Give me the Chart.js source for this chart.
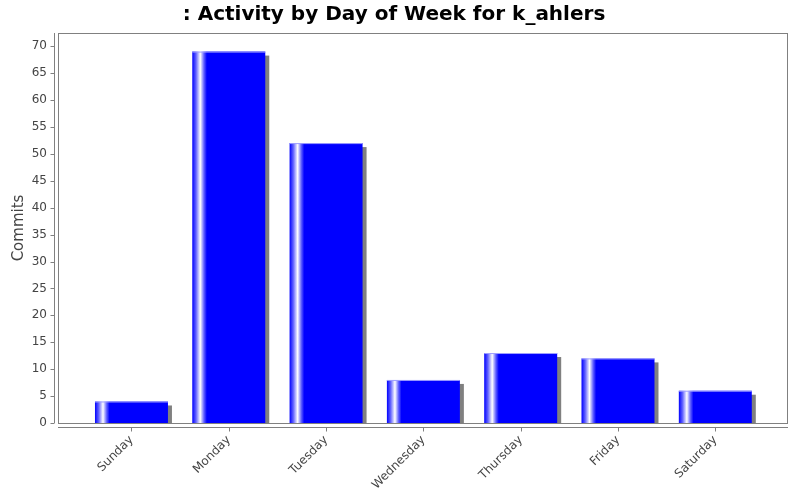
<!DOCTYPE html>
<html lang="en">
<head>
  <meta charset="UTF-8">
  <title>Activity by Day of Week</title>
  <script src="https://cdn.jsdelivr.net/npm/chart.js"></script>
  <style>
    body { margin: 0; background: #fff; }
    .chart-container { position: relative; width: 800px; height: 500px; }
  </style>
</head>
<body>
  <div class="chart-container">
    <canvas id="activityChart"></canvas>
  </div>

  <script>
    // Data
    const days = ['Sunday', 'Monday', 'Tuesday', 'Wednesday', 'Thursday', 'Friday', 'Saturday'];
    const commits = [4, 69, 52, 8, 13, 12, 6];
    const yTicks = [0, 5, 10, 15, 20, 25, 30, 35, 40, 45, 50, 55, 60, 65, 70];

    const textColor = '#444444';
    const lineColor = '#808080';
    const barWidthRatio = 0.75;

    // JFreeChart-like vertical band gradient for one bar element
    function barGradient(chart, bar) {
      const p = bar.getProps(['x', 'width'], true);
      if (!isFinite(p.x) || !isFinite(p.width)) return '#0000ff';
      const g = chart.ctx.createLinearGradient(p.x - p.width / 2, 0, p.x + p.width / 2, 0);
      g.addColorStop(0, '#0000ff');
      g.addColorStop(0.05, '#6060ff');
      g.addColorStop(0.11, '#ffffff');
      g.addColorStop(0.16, '#6060ff');
      g.addColorStop(0.2, '#0000ff');
      g.addColorStop(1, '#0000ff');
      return g;
    }

    // Shadows, gradients, plot frame and offset axis lines
    const framePlugin = {
      id: 'frame',
      beforeDatasetsDraw(chart) {
        const ctx = chart.ctx;
        const area = chart.chartArea;
        const meta = chart.getDatasetMeta(0);
        ctx.save();
        ctx.beginPath();
        ctx.rect(area.left, area.top, area.right - area.left, area.bottom - area.top);
        ctx.clip();
        ctx.fillStyle = '#808080';
        meta.data.forEach(bar => {
          const p = bar.getProps(['x', 'y', 'base', 'width'], true);
          ctx.fillRect(p.x - p.width / 2 + 4, p.y + 4, p.width, p.base - p.y - 4);
          // each bar gets its own options so the gradient follows its position
          bar.options = Object.assign({}, bar.options, { backgroundColor: barGradient(chart, bar) });
        });
        ctx.restore();
      },
      afterDatasetsDraw(chart) {
        // thin light edge along the top of each bar
        const ctx = chart.ctx;
        ctx.save();
        ctx.fillStyle = '#a0a0ff';
        chart.getDatasetMeta(0).data.forEach(bar => {
          const p = bar.getProps(['x', 'y', 'width'], true);
          ctx.fillRect(p.x - p.width / 2, p.y, p.width, 1);
        });
        ctx.restore();
      },
      afterDraw(chart) {
        const ctx = chart.ctx;
        const area = chart.chartArea;
        ctx.save();
        ctx.strokeStyle = lineColor;
        ctx.lineWidth = 1;
        // plot box
        ctx.strokeRect(area.left + 0.5, area.top + 0.5, area.right - area.left - 1, area.bottom - area.top);
        // y axis line and ticks
        const yAxisX = area.left - 3.5;
        ctx.beginPath();
        ctx.moveTo(yAxisX, area.top);
        ctx.lineTo(yAxisX, area.bottom);
        chart.scales.y.ticks.forEach(t => {
          const py = Math.round(chart.scales.y.getPixelForValue(t.value)) + 0.5;
          ctx.moveTo(yAxisX - 4, py);
          ctx.lineTo(yAxisX, py);
        });
        // x axis line and ticks
        const xAxisY = area.bottom + 4.5;
        ctx.moveTo(area.left, xAxisY);
        ctx.lineTo(area.right, xAxisY);
        chart.scales.x.ticks.forEach(t => {
          const px = Math.round(chart.scales.x.getPixelForValue(t.value)) + 0.5;
          ctx.moveTo(px, xAxisY);
          ctx.lineTo(px, xAxisY + 4);
        });
        ctx.stroke();
        ctx.restore();
      }
    };

    const ctx = document.getElementById('activityChart').getContext('2d');
    const activityChart = new Chart(ctx, {
      type: 'bar',
      data: {
        datasets: [{
          label: 'Commits',
          data: commits.map((v, i) => ({ x: i, y: v })),
          backgroundColor: '#0000ff',
          borderWidth: 0,
          barPercentage: barWidthRatio,
          categoryPercentage: 1
        }]
      },
      options: {
        responsive: true,
        maintainAspectRatio: false,
        animation: false,
        layout: { padding: { left: 0, right: 12, top: 0, bottom: 0 } },
        plugins: {
          legend: { display: false },
          tooltip: { enabled: false },
          title: {
            display: true,
            text: ': Activity by Day of Week for k_ahlers',
            color: '#000',
            font: { family: 'DejaVu Sans', size: 20, weight: 'bold' },
            padding: { top: 3, bottom: 6 }
          }
        },
        scales: {
          x: {
            type: 'linear',
            offset: false,
            min: -0.755,
            max: 6.747,
            grid: { display: false, offset: false },
            border: { display: false },
            afterBuildTicks: scale => { scale.ticks = days.map((d, i) => ({ value: i })); },
            afterFit: scale => { scale.height = 77; },
            ticks: {
              autoSkip: false,
              minRotation: 45,
              maxRotation: 45,
              padding: 2,
              color: textColor,
              font: { family: 'DejaVu Sans', size: 12 },
              callback: v => days[v]
            }
          },
          y: {
            min: 0,
            max: 72.45,
            grid: { display: false },
            border: { display: false },
            afterBuildTicks: scale => { scale.ticks = yTicks.map(v => ({ value: v })); },
            afterFit: scale => { scale.width = 58; },
            title: {
              display: true,
              text: 'Commits',
              color: textColor,
              font: { family: 'DejaVu Sans', size: 15 },
              padding: { top: 10, bottom: 0 }
            },
            ticks: {
              padding: 3,
              color: textColor,
              font: { family: 'DejaVu Sans', size: 12 }
            }
          }
        }
      },
      plugins: [framePlugin]
    });
  </script>
</body>
</html>
